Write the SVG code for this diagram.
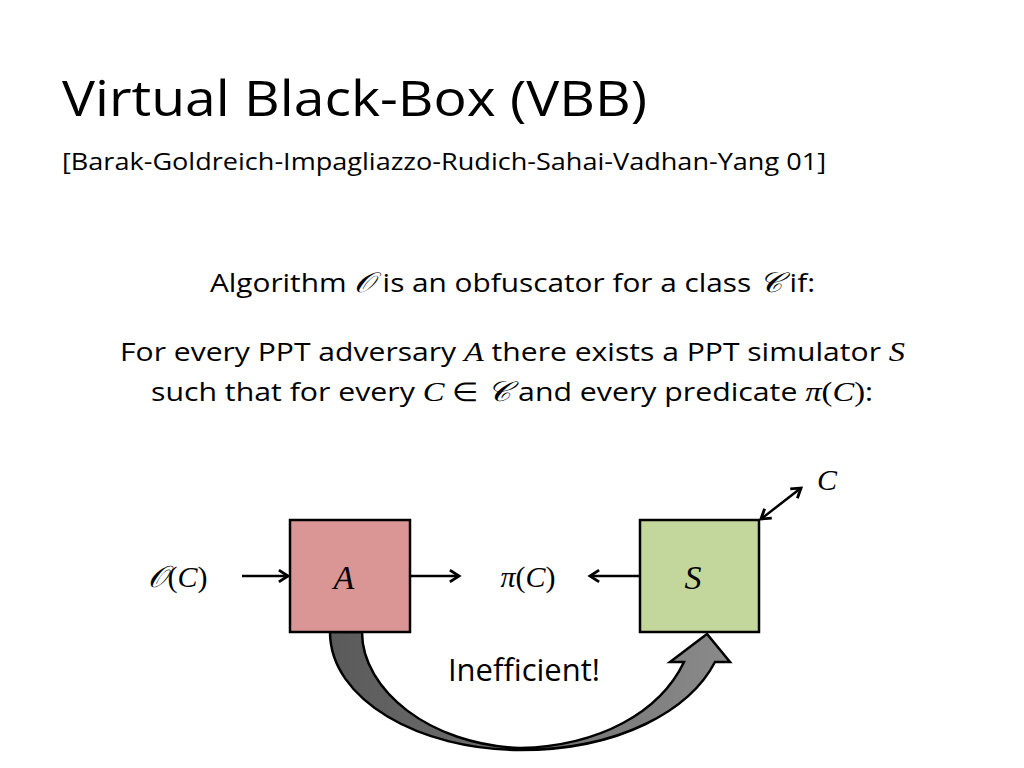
<svg xmlns="http://www.w3.org/2000/svg" width="1024" height="768" viewBox="0 0 1024 768">
<style>
.t{font-family:"Open Sans","Liberation Sans",sans-serif;fill:#000}
.m{font-family:"Liberation Serif",serif;font-style:italic}
.r{font-family:"Liberation Serif",serif;font-style:normal}
.ln{stroke:#000;stroke-width:2.5;fill:none;marker-end:url(#ah)}
</style>
<defs>
<marker id="ah" viewBox="0 0 10 10" refX="9" refY="5" markerWidth="13" markerHeight="13" orient="auto-start-reverse" markerUnits="userSpaceOnUse" style="overflow:visible">
<path d="M2,0.5 L9,5 L2,9.5" fill="none" stroke="#000" stroke-width="2.2"/>
</marker>
<linearGradient id="g" x1="0" x2="1" y1="0" y2="0"><stop offset="0" stop-color="#5a5a5a"/><stop offset="1" stop-color="#8a8a8a"/></linearGradient>
</defs>
<rect width="1024" height="768" fill="#fff"/>
<text class="t" x="62" y="116" font-size="50" textLength="585" lengthAdjust="spacingAndGlyphs">Virtual Black-Box (VBB)</text>
<text class="t" x="62" y="170" font-size="23" textLength="764" lengthAdjust="spacingAndGlyphs">[Barak-Goldreich-Impagliazzo-Rudich-Sahai-Vadhan-Yang 01]</text>
<text class="t" x="210" y="292" font-size="26" textLength="605" lengthAdjust="spacingAndGlyphs">Algorithm <tspan class="m" font-size="28">𝒪</tspan> is an obfuscator for a class <tspan class="m" font-size="28">𝒞</tspan> if:</text>
<text class="t" x="120" y="361" font-size="26" textLength="785" lengthAdjust="spacingAndGlyphs">For every PPT adversary <tspan class="m" font-size="28">A</tspan>  there exists a PPT simulator <tspan class="m" font-size="28">S</tspan></text>
<text class="t" x="151" y="401" font-size="26" textLength="722" lengthAdjust="spacingAndGlyphs">such that for every <tspan class="m" font-size="28">C</tspan> <tspan class="r">∈</tspan> <tspan class="m" font-size="28">𝒞</tspan> and every predicate <tspan class="m" font-size="28">π</tspan><tspan class="r" font-size="28">(</tspan><tspan class="m" font-size="28">C</tspan><tspan class="r" font-size="28">)</tspan>:</text>
<g id="connectors">
<line class="ln" x1="242" y1="576" x2="288" y2="576"/>
<line class="ln" x1="411" y1="576" x2="459" y2="576"/>
<line class="ln" x1="639" y1="576" x2="590" y2="576"/>
<line class="ln" style="marker-start:url(#ah)" x1="761" y1="519" x2="801" y2="488"/>
<path d="M330,632 C330,700 420,750 520,750 C620,750 690,710 715,662 L730,662 L707,634 L670,662 L684,662 C660,712 600,746 520,748 C430,745 362,690 362,632 Z" fill="url(#g)" stroke="#000" stroke-width="2.5"/>
</g>
<g id="nodeA"><rect x="290" y="520" width="120" height="112" fill="#d99694" stroke="#000" stroke-width="2.5"/>
<text class="m" x="344" y="589" font-size="34" text-anchor="middle">A</text></g>
<g id="nodeS"><rect x="640" y="520" width="119" height="112" fill="#c3d69b" stroke="#000" stroke-width="2.5"/>
<text class="m" x="693" y="589" font-size="34" text-anchor="middle">S</text></g>
<g id="labels" font-size="30">
<text x="178" y="587" text-anchor="middle"><tspan class="m">𝒪</tspan><tspan class="r">(</tspan><tspan class="m">C</tspan><tspan class="r">)</tspan></text>
<text x="528" y="587" text-anchor="middle"><tspan class="m">π</tspan><tspan class="r">(</tspan><tspan class="m">C</tspan><tspan class="r">)</tspan></text>
<text class="m" x="827" y="490" text-anchor="middle">C</text>
<text class="t" x="524" y="681" font-size="31" text-anchor="middle">Inefficient!</text>
</g>
</svg>
